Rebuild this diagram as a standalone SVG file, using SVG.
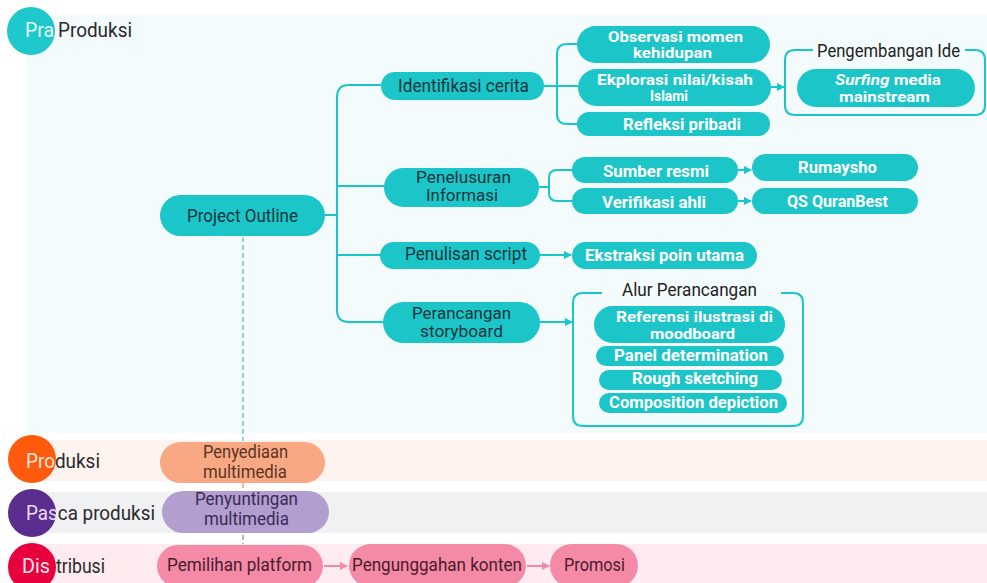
<svg xmlns="http://www.w3.org/2000/svg" width="987" height="583" viewBox="0 0 987 583">
<defs>
<style>
.pill{fill:#1cc5c8}
.t1{font-family:Roboto,"Liberation Sans",sans-serif;font-size:18px;fill:#14363d;text-anchor:middle}
.t1s{font-family:Roboto,"Liberation Sans",sans-serif;font-size:16px;fill:#14363d;text-anchor:middle}
.t2{font-family:Roboto,"Liberation Sans",sans-serif;font-size:17px;font-weight:bold;fill:#ffffff;text-anchor:middle}
.t2s{font-family:Roboto,"Liberation Sans",sans-serif;font-size:14px;font-weight:bold;fill:#ffffff;text-anchor:middle}
.tt{font-family:Roboto,"Liberation Sans",sans-serif;font-size:18px;fill:#222;text-anchor:middle}
.lane{font-family:Roboto,"Liberation Sans",sans-serif;font-size:20px;fill:#2a2a2a}
.con{fill:none;stroke:#1cc5c8;stroke-width:2}
.box{fill:none;stroke:#1cc5c8;stroke-width:2}
.pk{fill:none;stroke:#f58aa6;stroke-width:2}
</style>
<marker id="ah" viewBox="0 0 8 8" refX="7" refY="4" markerWidth="8" markerHeight="8" markerUnits="userSpaceOnUse" orient="auto">
<path d="M0,0 L8,4 L0,8 Z" fill="#1cc5c8"/>
</marker>
<marker id="ahp" viewBox="0 0 8 8" refX="7" refY="4" markerWidth="8" markerHeight="8" markerUnits="userSpaceOnUse" orient="auto">
<path d="M0,0 L8,4 L0,8 Z" fill="#f58aa6"/>
</marker>
</defs>

<g id="lanes">
<rect x="27" y="15" width="960" height="418" fill="#f3fbfd"/>
<rect x="27" y="440" width="960" height="41" fill="#fff3ef"/>
<rect x="27" y="492" width="960" height="41" fill="#f0f1f3"/>
<rect x="27" y="544" width="960" height="39" fill="#ffebf0"/>
<circle cx="31" cy="31" r="24" fill="#1ec8cc"/>
<circle cx="32" cy="459" r="24" fill="#ff5a0e"/>
<circle cx="32" cy="513" r="24" fill="#5b2d8e"/>
<circle cx="32" cy="567" r="24" fill="#e8003d"/>
<text class="lane" x="25" y="37" textLength="29" lengthAdjust="spacingAndGlyphs" style="fill:#e3f8f8">Pra</text>
<text class="lane" x="58" y="37" textLength="74" lengthAdjust="spacingAndGlyphs">Produksi</text>
<text class="lane" x="26" y="468" textLength="74" lengthAdjust="spacingAndGlyphs"><tspan style="fill:#ffe6d8">Pro</tspan>duksi</text>
<text class="lane" x="26" y="520" textLength="129" lengthAdjust="spacingAndGlyphs"><tspan style="fill:#e6dcf0">Pas</tspan>ca produksi</text>
<text class="lane" x="22" y="573" textLength="28" lengthAdjust="spacingAndGlyphs" style="fill:#ffe8ee">Dis</text>
<text class="lane" x="56" y="573" textLength="49" lengthAdjust="spacingAndGlyphs">tribusi</text>
</g>

<g id="connectors">
<line x1="243" y1="237" x2="243" y2="441" stroke="#86dde0" stroke-width="2" stroke-dasharray="5 3"/>
<line x1="243" y1="483" x2="243" y2="491" stroke="#f8b89a" stroke-width="2" stroke-dasharray="5 3"/>
<line x1="243" y1="535" x2="243" y2="544" stroke="#b8b0c4" stroke-width="2" stroke-dasharray="5 3"/>
<path class="con" d="M325,215 H337"/>
<path class="con" d="M381,85 H349 Q337,85 337,97 V310 Q337,322 349,322 H384"/>
<path class="con" d="M337,186 H384"/>
<path class="con" d="M337,255 H381"/>
<path class="con" d="M544,86 H578"/>
<path class="con" d="M578,44 H567 Q557,44 557,54 V114 Q557,124 567,124 H578"/>
<path class="con" d="M771,87 H784" marker-end="url(#ah)"/>
<path class="con" d="M539,187 H549"/>
<path class="con" d="M573,170 H557 Q549,170 549,178 V193 Q549,201 557,201 H573"/>
<path class="con" d="M738,170 H751" marker-end="url(#ah)"/>
<path class="con" d="M738,201 H751" marker-end="url(#ah)"/>
<path class="con" d="M540,255 H571" marker-end="url(#ah)"/>
<path class="con" d="M540,322 H572" marker-end="url(#ah)"/>
<path class="pk" d="M324,566 H347" marker-end="url(#ahp)"/>
<path class="pk" d="M527,566 H549" marker-end="url(#ahp)"/>
</g>

<g id="project-outline">
<rect class="pill" x="160" y="195" width="165" height="41" rx="20.5"/>
<text class="t1" x="242.5" y="222" textLength="111" lengthAdjust="spacingAndGlyphs">Project Outline</text>
</g>

<g id="identifikasi-cerita">
<rect class="pill" x="381" y="72" width="163" height="28" rx="14"/>
<text class="t1" x="463.5" y="92" textLength="131" lengthAdjust="spacingAndGlyphs">Identifikasi cerita</text>
</g>

<g id="penelusuran-informasi">
<rect class="pill" x="384" y="168" width="155" height="39" rx="19.5"/>
<text class="t1s" x="463.5" y="183" textLength="95" lengthAdjust="spacingAndGlyphs">Penelusuran</text>
<text class="t1s" x="462" y="201" textLength="72" lengthAdjust="spacingAndGlyphs">Informasi</text>
</g>

<g id="penulisan-script">
<rect class="pill" x="380" y="242" width="160" height="27" rx="13.5"/>
<text class="t1" x="466" y="260" textLength="122" lengthAdjust="spacingAndGlyphs">Penulisan script</text>
</g>

<g id="perancangan-storyboard">
<rect class="pill" x="383" y="302" width="157" height="41" rx="20.5"/>
<text class="t1s" x="461.5" y="319" textLength="99" lengthAdjust="spacingAndGlyphs">Perancangan</text>
<text class="t1s" x="461.5" y="337" textLength="83" lengthAdjust="spacingAndGlyphs">storyboard</text>
</g>

<g id="observasi">
<rect class="pill" x="577" y="26" width="193" height="37" rx="18.5"/>
<text class="t2s" x="675.5" y="42" textLength="135" lengthAdjust="spacingAndGlyphs">Observasi momen</text>
<text class="t2s" x="672.5" y="58" textLength="79" lengthAdjust="spacingAndGlyphs">kehidupan</text>
</g>

<g id="ekplorasi">
<rect class="pill" x="578" y="69" width="193" height="37" rx="18.5"/>
<text class="t2s" x="675" y="85" textLength="156" lengthAdjust="spacingAndGlyphs">Ekplorasi nilai/kisah</text>
<text class="t2s" x="669" y="101" textLength="38" lengthAdjust="spacingAndGlyphs">Islami</text>
</g>

<g id="refleksi">
<rect class="pill" x="577" y="112" width="193" height="24" rx="12"/>
<text class="t2" x="682" y="130" textLength="118" lengthAdjust="spacingAndGlyphs">Refleksi pribadi</text>
</g>

<g id="pengembangan-ide">
<path class="box" d="M813,50 H795 Q785,50 785,60 V105 Q785,115 795,115 H975 Q985,115 985,105 V60 Q985,50 975,50 H965"/>
<text class="tt" x="888.5" y="57" textLength="143" lengthAdjust="spacingAndGlyphs">Pengembangan Ide</text>
<rect class="pill" x="797" y="69" width="178" height="38" rx="19"/>
<text class="t2s" x="888" y="85" textLength="106" lengthAdjust="spacingAndGlyphs"><tspan font-style="italic">Surfing</tspan> media</text>
<text class="t2s" x="884.5" y="102" textLength="91" lengthAdjust="spacingAndGlyphs">mainstream</text>
</g>

<g id="sumber-resmi">
<rect class="pill" x="572" y="157" width="166" height="26" rx="13"/>
<text class="t2" x="656" y="177" textLength="106" lengthAdjust="spacingAndGlyphs">Sumber resmi</text>
</g>

<g id="verifikasi-ahli">
<rect class="pill" x="572" y="188" width="166" height="26" rx="13"/>
<text class="t2" x="654" y="208" textLength="104" lengthAdjust="spacingAndGlyphs">Verifikasi ahli</text>
</g>

<g id="rumaysho">
<rect class="pill" x="752" y="154" width="166" height="27" rx="13.5"/>
<text class="t2" x="837.5" y="173" textLength="79" lengthAdjust="spacingAndGlyphs">Rumaysho</text>
</g>

<g id="qs-quranbest">
<rect class="pill" x="752" y="188" width="166" height="26" rx="13"/>
<text class="t2" x="837.5" y="207" textLength="101" lengthAdjust="spacingAndGlyphs">QS QuranBest</text>
</g>

<g id="ekstraksi">
<rect class="pill" x="572" y="242" width="185" height="27" rx="13.5"/>
<text class="t2" x="664.5" y="261" textLength="159" lengthAdjust="spacingAndGlyphs">Ekstraksi poin utama</text>
</g>

<g id="alur-perancangan">
<path class="box" d="M602,293 H583 Q573,293 573,303 V416 Q573,426 583,426 H793 Q803,426 803,416 V303 Q803,293 793,293 H781"/>
<text class="tt" x="689.5" y="296" textLength="135" lengthAdjust="spacingAndGlyphs">Alur Perancangan</text>
</g>

<g id="referensi">
<rect class="pill" x="594" y="306" width="191" height="37" rx="18.5"/>
<text class="t2s" x="694.5" y="322" textLength="157" lengthAdjust="spacingAndGlyphs">Referensi ilustrasi di</text>
<text class="t2s" x="692.5" y="339" textLength="85" lengthAdjust="spacingAndGlyphs">moodboard</text>
</g>

<g id="panel-determination">
<rect class="pill" x="596" y="346" width="188" height="20" rx="10"/>
<text class="t2" x="691" y="361" textLength="154" lengthAdjust="spacingAndGlyphs">Panel determination</text>
</g>

<g id="rough-sketching">
<rect class="pill" x="599" y="370" width="183" height="20" rx="10"/>
<text class="t2" x="695" y="384" textLength="126" lengthAdjust="spacingAndGlyphs">Rough sketching</text>
</g>

<g id="composition-depiction">
<rect class="pill" x="599" y="393" width="188" height="20" rx="10"/>
<text class="t2" x="693.5" y="408" textLength="169" lengthAdjust="spacingAndGlyphs">Composition depiction</text>
</g>

<g id="penyediaan-multimedia">
<rect x="160" y="442" width="165" height="41" rx="20.5" fill="#f8a983"/>
<text class="t1" x="245.5" y="458" textLength="85" lengthAdjust="spacingAndGlyphs" style="fill:#5a3426">Penyediaan</text>
<text class="t1" x="245" y="478" textLength="84" lengthAdjust="spacingAndGlyphs" style="fill:#5a3426">multimedia</text>
</g>

<g id="penyuntingan-multimedia">
<rect x="162" y="491" width="167" height="42" rx="21" fill="#b39fcf"/>
<text class="t1" x="246.5" y="505" textLength="103" lengthAdjust="spacingAndGlyphs" style="fill:#3a2a55">Penyuntingan</text>
<text class="t1" x="246.5" y="525" textLength="85" lengthAdjust="spacingAndGlyphs" style="fill:#3a2a55">multimedia</text>
</g>

<g id="pemilihan-platform">
<rect x="157" y="545" width="166" height="42" rx="21" fill="#f48aa6"/>
<text class="t1" x="239.5" y="571" textLength="145" lengthAdjust="spacingAndGlyphs" style="fill:#4a1a2c">Pemilihan platform</text>
</g>

<g id="pengunggahan-konten">
<rect x="349" y="544" width="177" height="43" rx="21.5" fill="#f48aa6"/>
<text class="t1" x="437" y="571" textLength="170" lengthAdjust="spacingAndGlyphs" style="fill:#4a1a2c">Pengunggahan konten</text>
</g>

<g id="promosi">
<rect x="550" y="544" width="88" height="43" rx="21.5" fill="#f48aa6"/>
<text class="t1" x="594.5" y="571" textLength="61" lengthAdjust="spacingAndGlyphs" style="fill:#4a1a2c">Promosi</text>
</g>
</svg>
